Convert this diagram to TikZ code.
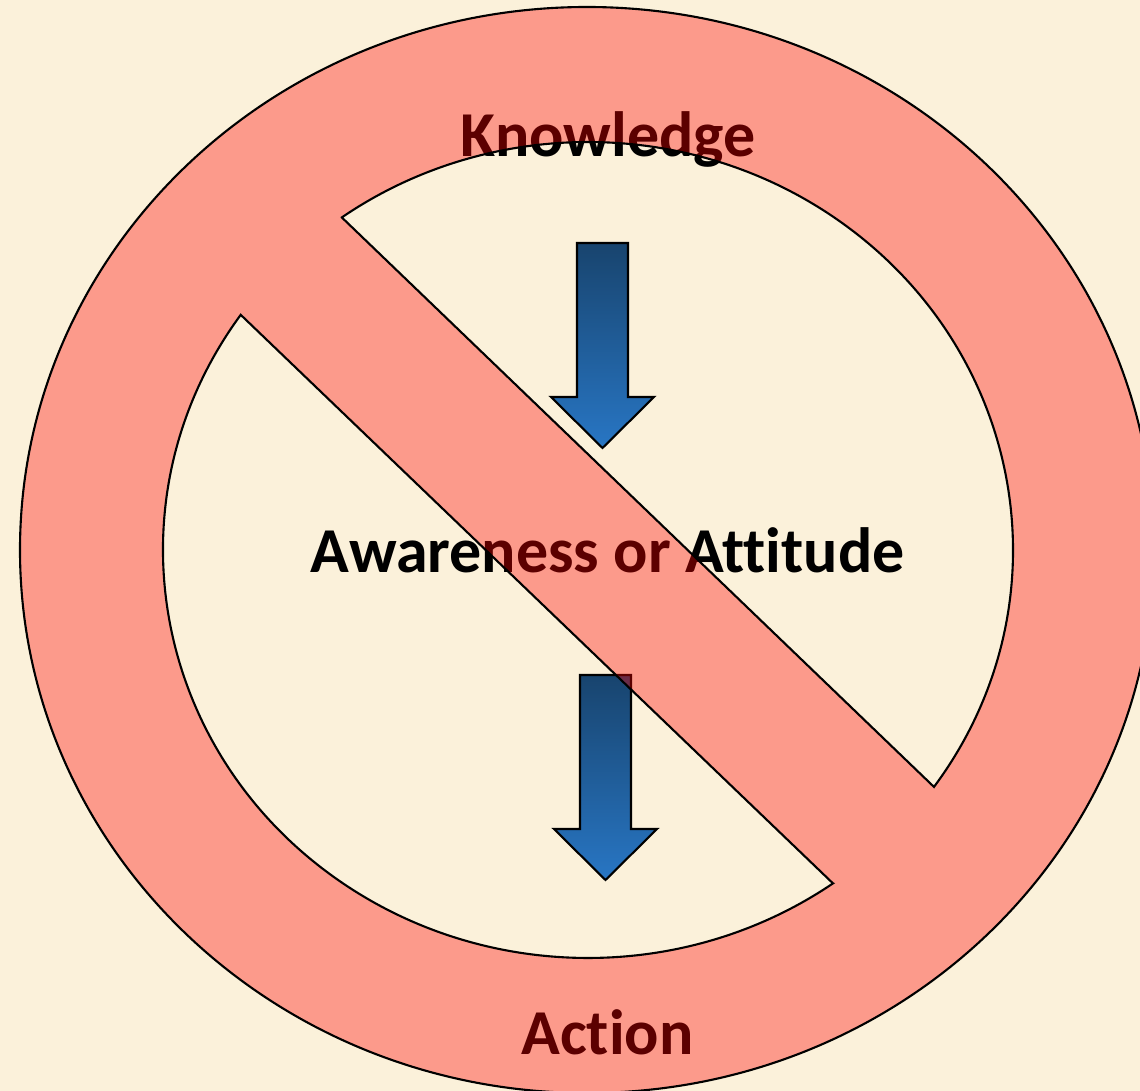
\documentclass[tikz,border=0pt]{standalone}
\usepackage{fontspec}
\setmainfont{Carlito}[Ligatures=CommonOff]
\usepackage{xcolor}
\usepackage{tikz}

\definecolor{parchment}{RGB}{251,241,218}
\definecolor{arrowtop}{RGB}{24,68,110}
\definecolor{arrowbot}{RGB}{40,118,196}

\begin{document}
\begin{tikzpicture}[
		word/.style={font=\fontsize{18.2}{22}\selectfont\bfseries, anchor=base, inner sep=0pt},
		blockarrow/.style={top color=arrowtop, bottom color=arrowbot, draw=black, line width=0.6pt},
		nosign/.style={fill=red, fill opacity=0.36, draw=black, line width=0.6pt, even odd rule}
	]
		\useasboundingbox (-5.88, -5.41) rectangle (5.52, 5.50);
		\fill[parchment] (-5.88, -5.41) rectangle (5.52, 5.50);

		\node[word] (knowledge) at (0.2, 3.93) {Knowledge};
		\node[word] (awareness) at (0.195, -0.23) {Awareness or Attitude};
		\node[word] (action) at (0.195, -5.04) {Action};

		\foreach \x/\y in {0.145/3.07, 0.175/-1.25}
		\shadedraw[blockarrow] ({\x-0.255}, \y) -- ({\x+0.255}, \y) -- ({\x+0.255}, {\y-1.54}) -- ({\x+0.515}, {\y-1.54})
			-- (\x, {\y-2.05}) -- ({\x-0.515}, {\y-1.54}) -- ({\x-0.255}, {\y-1.54}) -- cycle;

		\filldraw[nosign] (-0.01, 0) ellipse [x radius=5.67, y radius=5.43]
			({4.25*cos(125.4)}, {4.08*sin(125.4)}) -- ({4.25*cos(-35.5)}, {4.08*sin(-35.5)})
			arc [start angle=-35.5, end angle=125.4, x radius=4.25, y radius=4.08] -- cycle
			({4.25*cos(-54.8)}, {4.08*sin(-54.8)}) -- ({4.25*cos(144.8)}, {4.08*sin(144.8)})
			arc [start angle=144.8, end angle=305.2, x radius=4.25, y radius=4.08] -- cycle;
	\end{tikzpicture}
\end{document}
